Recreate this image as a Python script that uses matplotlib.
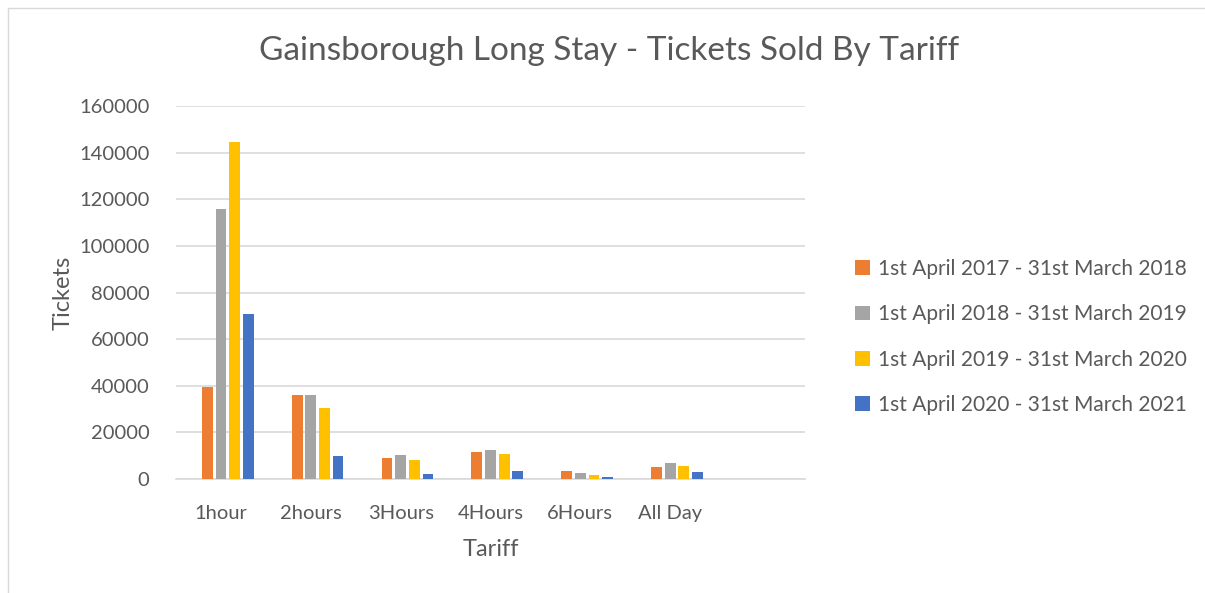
import matplotlib.pyplot as plt
import matplotlib.patches as mpatches
import numpy as np

plt.rcParams['font.family'] = ['Lato', 'DejaVu Sans']

# data
tariffs = ['1hour', '2hours', '3Hours', '4Hours', '6Hours', 'All Day']
periods = ['1st April 2017 - 31st March 2018',
           '1st April 2018 - 31st March 2019',
           '1st April 2019 - 31st March 2020',
           '1st April 2020 - 31st March 2021']
y2017 = [39300, 35900, 9200, 11400, 3600, 5300]
y2018 = [116000, 36200, 10200, 12300, 2600, 7000]
y2019 = [144600, 30400, 8300, 10600, 1900, 5700]
y2020 = [70600, 10000, 2300, 3300, 1000, 3000]

colors = ['#ED7D31', '#A5A5A5', '#FFC000', '#4472C4']
text_col = '#595959'

fig = plt.figure(figsize=(12.05, 5.93), dpi=100)
ax = fig.add_axes([176/1205, 1 - 479/593, (805 - 176)/1205, (479 - 106)/593])

# outer chart border
fig.patches.append(mpatches.Rectangle((8/1205, -0.01), 1.1, 1 - 8/593 + 0.01,
                                      transform=fig.transFigure, fill=False,
                                      edgecolor='#d9d9d9', linewidth=1))

x = np.arange(len(tariffs))
step = 0.152
width = 0.12
series = [y2017, y2018, y2019, y2020]
for i, vals in enumerate(series):
    ax.bar(x + (i - 1) * step, vals, width, color=colors[i], label=periods[i],
           zorder=3)

ax.set_xlim(-0.5, 6.5)
ax.set_ylim(0, 160000)
ax.set_yticks(np.arange(0, 160001, 20000))
ax.set_xticks(x)
ax.set_xticklabels(tariffs)
ax.grid(axis='y', color='#d9d9d9', linewidth=1.2, zorder=0)
for s in ['top', 'right', 'left']:
    ax.spines[s].set_visible(False)
ax.spines['bottom'].set_color('#d9d9d9')
ax.spines['bottom'].set_linewidth(1.2)
ax.tick_params(axis='both', length=0, labelsize=14.5, colors=text_col)
ax.tick_params(axis='y', pad=19)
ax.tick_params(axis='x', pad=19)

ax.set_ylabel('Tickets', fontsize=17, color=text_col, labelpad=4)
ax.set_xlabel('Tariff', fontsize=17, color=text_col, labelpad=12)

fig.text(609/1205, 1 - 51/593, 'Gainsborough Long Stay - Tickets Sold By Tariff',
         ha='center', va='center', fontsize=24, color=text_col)

fig.legend(loc='center left', bbox_to_anchor=(836/1205, 1 - 337/593),
           frameon=False, fontsize=15, labelcolor=text_col,
           handlelength=0.72, handleheight=0.72, handletextpad=0.4,
           labelspacing=1.22)

fig.savefig('out.png', dpi=100)
